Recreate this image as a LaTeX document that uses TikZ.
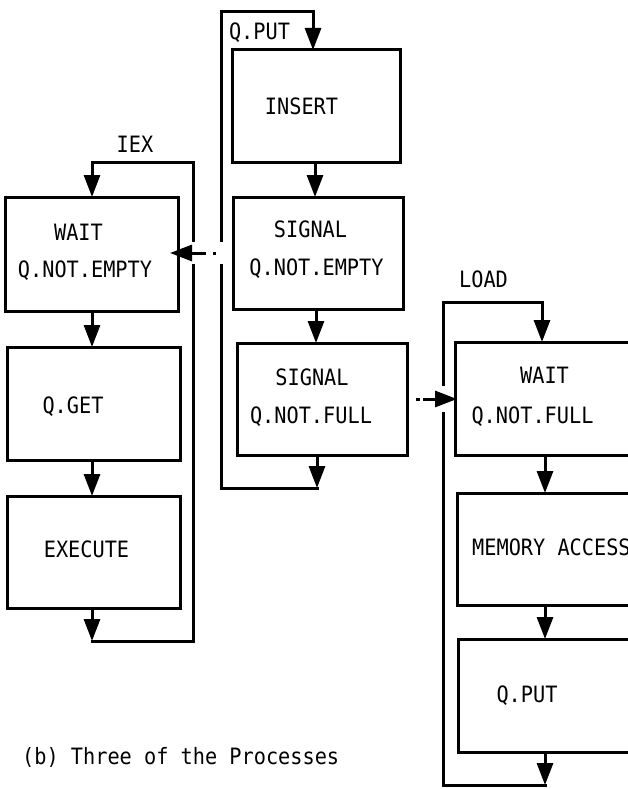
\documentclass[tikz,border=0pt]{standalone}
\usepackage{fontspec}
\setmonofont[FakeStretch=0.9]{DejaVu Sans Mono}
\usetikzlibrary{arrows.meta}

\tikzset{
  flow/.style={line width=3pt, line cap=rect, line join=miter},
  tip/.style={-{Triangle[length=22pt,width=16pt]}},
  procbox/.style={draw, line width=3pt, rectangle, inner sep=0pt, outer sep=0pt},
  txt/.style={font=\ttfamily\fontsize{22.5}{26}\selectfont, inner sep=0pt, anchor=base},
  knockout/.style={draw=white, line width=#1, line cap=butt},
  signal/.style={flow, tip, line cap=butt},
}

\begin{document}
\begin{tikzpicture}[x=1pt, y=-1pt]
\useasboundingbox (0,0) rectangle (628,789);
\clip (0,0) rectangle (628,789);

% ---- process IEX ----
\node[procbox, minimum width=173pt, minimum height=114pt] (wq1)  at (91.5,254)   {};
\node[procbox, minimum width=173pt, minimum height=113pt] (qget) at (93.5,403.5) {};
\node[procbox, minimum width=173pt, minimum height=112pt] (exec) at (93.5,552)   {};

\node[txt] (tiex)  at (135,152)  {IEX};
\node[txt] (tw1a)  at (78.5,240) {WAIT};
\node[txt] (tw1b)  at (85,277)   {Q.NOT.EMPTY};
\node[txt] (tget)  at (73,413)   {Q.GET};
\node[txt] (texe)  at (86.5,557) {EXECUTE};

\coordinate (iexA) at (92,641);
\coordinate (iexB) at (193,641);
\coordinate (iexC) at (193,162);
\coordinate (iexD) at (92,162);

\draw[flow, tip] (iexA) -- (iexB) -- (iexC) -- (iexD) -- (wq1.north -| iexD);
\draw[flow, tip] (wq1.south -| iexD) -- (qget.north -| iexD);
\draw[flow, tip] (qget.south -| iexD) -- (exec.north -| iexD);
\draw[flow, tip] (exec.south -| iexA) -- (iexA);

% ---- process Q.PUT ----
\node[procbox, minimum width=168pt, minimum height=112pt] (ins)  at (316,106) {};
\node[procbox, minimum width=170pt, minimum height=112pt] (sig1) at (318,253) {};
\node[procbox, minimum width=170pt, minimum height=112pt] (sig2) at (322,399) {};

\node[txt] (tqp)   at (259.5,40)  {Q.PUT};
\node[txt] (tins)  at (301.5,115) {INSERT};
\node[txt] (ts1a)  at (310.5,237) {SIGNAL};
\node[txt] (ts1b)  at (316.5,275) {Q.NOT.EMPTY};
\node[txt] (ts2a)  at (312,385)   {SIGNAL};
\node[txt] (ts2b)  at (311,423)   {Q.NOT.FULL};

\coordinate (qpA) at (317,488);
\coordinate (qpB) at (221,488);
\coordinate (qpC) at (221,12);
\coordinate (qpD) at (313,12);

\draw[flow, tip] (qpA) -- (qpB) -- (qpC) -- (qpD) -- (ins.north -| qpD);
\draw[flow, tip] (ins.south -| 315,0) -- (sig1.north -| 315,0);
\draw[flow, tip] (sig1.south -| 316,0) -- (sig2.north -| 316,0);
\draw[flow, tip] (sig2.south -| qpA) -- (qpA);

% ---- process LOAD ----
\node[procbox, minimum width=200pt, minimum height=113pt] (wq2)  at (555,398.5) {};
\node[procbox, minimum width=200pt, minimum height=112pt] (mem)  at (557,549)   {};
\node[procbox, minimum width=200pt, minimum height=113pt] (qput) at (558,695.5) {};

\node[txt] (tload) at (483.5,287) {LOAD};
\node[txt] (tw2a)  at (544.5,383) {WAIT};
\node[txt] (tw2b)  at (532.5,423) {Q.NOT.FULL};
\node[txt, anchor=base west] (tmem) at (472,555) {MEMORY ACCESS};
\node[txt] (tput)  at (527,702)   {Q.PUT};

\coordinate (ldA) at (545,785);
\coordinate (ldB) at (443,785);
\coordinate (ldC) at (443,302);
\coordinate (ldD) at (542,302);

\draw[flow, tip] (ldA) -- (ldB) -- (ldC) -- (ldD) -- (wq2.north -| ldD);
\draw[flow, tip] (wq2.south -| ldA) -- (mem.north -| ldA);
\draw[flow, tip] (mem.south -| ldA) -- (qput.north -| ldA);
\draw[flow, tip] (qput.south -| ldA) -- (ldA);

% ---- signals between processes ----
\draw[knockout=22pt] ([xshift=2pt]wq1.east |- sig1.west) -- ([xshift=-2pt]sig1.west);
\draw[signal, dash pattern=on 0pt off 17pt on 3pt off 7pt on 40pt, shorten >=-8pt]
  (sig1.west) -- (wq1.east |- sig1.west);

\draw[knockout=26pt] ([xshift=2pt]sig2.east) -- ([xshift=-2pt]wq2.west |- sig2.east);
\draw[signal, dash pattern=on 0pt off 9pt on 4pt off 3pt on 40pt, shorten >=-2pt]
  (sig2.east) -- (wq2.west |- sig2.east);

% ---- caption ----
\node[txt, anchor=base west] (cap) at (22,764) {(b) Three of the Processes};
\end{tikzpicture}
\end{document}
